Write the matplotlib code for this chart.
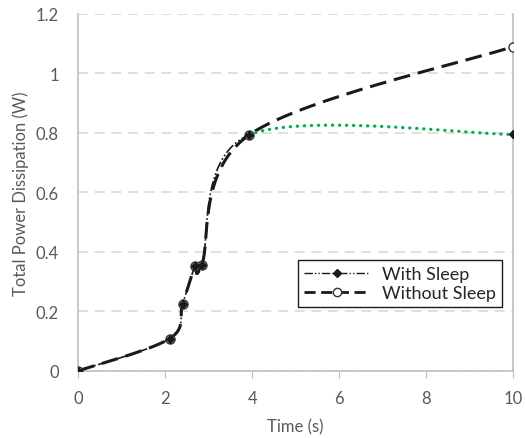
import numpy as np
import matplotlib
matplotlib.use("Agg")
import matplotlib.pyplot as plt
from matplotlib.lines import Line2D

# values (time in s, power in W)
time_s = [0, 2.10, 2.40, 2.69, 2.84, 3.93, 10]
power_with_sleep = [0, 0.108, 0.225, 0.352, 0.356, 0.793, 0.795]
power_without_sleep = [0, 0.108, 0.225, 0.352, 0.356, 0.793, 1.09]

x_ticks = [0, 2, 4, 6, 8, 10]
y_ticks = [0, 0.2, 0.4, 0.6, 0.8, 1.0, 1.2]
y_tick_labels = ["0", "0.2", "0.4", "0.6", "0.8", "1", "1.2"]

GREY_TEXT = "#595959"
GRID = "#D9D9D9"
AXIS = "#BFBFBF"
GREEN = "#00B050"
INK = "#1A1A1A"
DASH_DOT = (6, 1.5, 1, 1.5, 1, 1.5)


def smooth(xs, ys, n=60):
    """Bezier smoothing like a spreadsheet 'smoothed line'; one chunk per segment."""
    pts = np.column_stack([xs, ys]).astype(float)
    t = np.linspace(0, 1, n)[:, None]
    segs = []
    for i in range(len(pts) - 1):
        p0 = pts[i - 1] if i > 0 else pts[i]
        p1, p2 = pts[i], pts[i + 1]
        p3 = pts[i + 2] if i + 2 < len(pts) else pts[i + 1]
        c1 = p1 + (p2 - p0) / 6
        c2 = p2 - (p3 - p1) / 6
        seg = ((1 - t) ** 3 * p1 + 3 * (1 - t) ** 2 * t * c1
               + 3 * (1 - t) * t ** 2 * c2 + t ** 3 * p2)
        segs.append(seg)
    return segs


plt.rcParams["font.family"] = ["Lato", "DejaVu Sans"]

fig = plt.figure(figsize=(5.25, 4.39), dpi=100)
ax = fig.add_axes([0.149, 0.153, 0.828, 0.813])

# without sleep: thick dashed
segs = smooth(time_s, power_without_sleep)
curve = np.vstack(segs)
ax.plot(curve[:, 0], curve[:, 1], color=INK, lw=2.2,
        dashes=(5.5, 2.6), zorder=3)
ax.plot(time_s, power_without_sleep, ls="", marker="o", ms=6.5,
        mfc="white", mec="#333333", mew=1.0, zorder=4)

# with sleep: dash-dot up to the last segment, green dotted afterwards
segs = smooth(time_s, power_with_sleep)
head = np.vstack(segs[:-1])
ax.plot(head[:, 0], head[:, 1], color=INK, lw=1.2, dashes=DASH_DOT, zorder=5)
tail = segs[-1]
ax.plot(tail[:, 0], tail[:, 1], color=GREEN, lw=2.3,
        ls=(0, (0.1, 2.1)), dash_capstyle="round", zorder=5)
ax.plot(time_s, power_with_sleep, ls="", marker="D", ms=4.5,
        mfc=INK, mec=INK, zorder=6)

ax.set_xlim(0, 10)
ax.set_ylim(0, 1.2)
ax.set_xticks(x_ticks)
ax.set_yticks(y_ticks)
ax.set_yticklabels(y_tick_labels)
ax.yaxis.grid(True, color=GRID, lw=1.2, dashes=(6, 4))
ax.set_axisbelow(True)

ax.spines["top"].set_visible(False)
for side in ["left", "bottom", "right"]:
    ax.spines[side].set_color(AXIS)
    ax.spines[side].set_linewidth(1.2)

ax.tick_params(axis="x", direction="out", length=5, color=AXIS,
               labelsize=12, labelcolor=GREY_TEXT, pad=9)
ax.tick_params(axis="y", length=0, labelsize=12, labelcolor=GREY_TEXT, pad=14)

ax.set_xlabel("Time (s)", fontsize=12, color=GREY_TEXT, labelpad=9)
ax.set_ylabel("Total Power Dissipation (W)", fontsize=12, color=GREY_TEXT,
              labelpad=5)

handles = [
    Line2D([], [], color=INK, lw=1.0, dashes=DASH_DOT,
           marker="D", ms=4, mfc=INK),
    Line2D([], [], color=INK, lw=2.0, dashes=(4, 2),
           marker="o", ms=6, mfc="white", mec="#333333"),
]
leg = ax.legend(handles, ["With Sleep", "Without Sleep"],
                loc="lower right", bbox_to_anchor=(0.975, 0.178),
                fontsize=13, frameon=True, fancybox=False, framealpha=1,
                edgecolor=INK, handlelength=3.6, borderpad=0.35,
                labelspacing=0.15, handletextpad=0.7, borderaxespad=0)
leg.get_frame().set_linewidth(1.0)
for txt in leg.get_texts():
    txt.set_color("#262626")

fig.savefig("out.png", dpi=100)
